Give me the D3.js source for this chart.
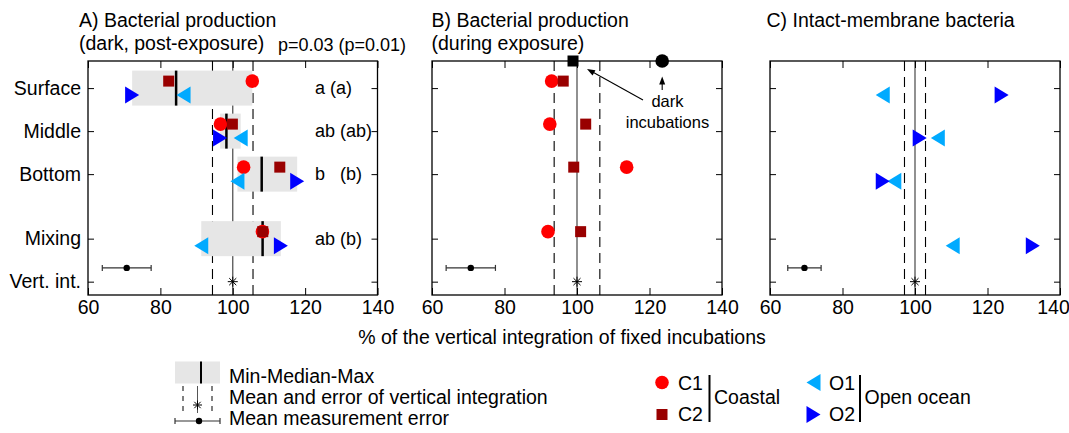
<!DOCTYPE html>
<html>
<head>
<meta charset="utf-8">
<script src="https://cdn.jsdelivr.net/npm/d3@7/dist/d3.min.js"></script>
<style>
  body { margin: 0; background: #fff; }
  text { font-family: "Liberation Sans", Arial, sans-serif; fill: #000; }
</style>
</head>
<body>
<svg id="chart" width="1069" height="433"></svg>
<script>
// ---- data (% of vertical integration) ----
var depths = ["Surface", "Middle", "Bottom", "Mixing", "Vert. int."];
var depthPos = [1, 2, 3, 4.5, 5.5];
var xTicks = [60, 80, 100, 120, 140];

// A) dark, post-exposure
var darkC1 = [105.4, 96.6, 103.0, 108.2];
var darkC2 = [82.3, 99.9, 113.0, 108.3];
var darkO1 = [86.4, 102.2, 101.3, 91.3];
var darkO2 = [72.2, 96.5, 117.8, 113.3];
var sigLabels = ["a (a)", "ab (ab)", "b   (b)", "ab (b)"];
var pLabel = "p=0.03 (p=0.01)";

// B) during exposure
var expC1 = [93.0, 92.5, 113.7, 92.0];
var expC2 = [96.2, 102.4, 99.1, 101.0];
var darkIncSquare = 98.9, darkIncCircle = 123.5;

// C) intact-membrane bacteria
var imO1 = [91.1, 106.3, 94.3, 110.4];
var imO2 = [123.9, 101.3, 91.1, 132.5];

// vertical integration mean/error and mean measurement error, per panel
var vertMean = [100, 100, 100];
var vertErr = [5.6, 6.3, 2.9];
var measMean = [70.7, 70.7, 69.5];
var measErr = [6.75, 6.8, 4.6];

// ---- styles ----
var colC1 = "#ff0000", colC2 = "#990000", colO1 = "#00aaff", colO2 = "#0000ff";
var font = 19.5;

var svg = d3.select("#chart");
var plotTop = 61, plotBottom = 295;
var panels = [
  { left: 88, right: 377.5 },
  { left: 432, right: 722 },
  { left: 770, right: 1060 }
];

var y = d3.scaleLinear().domain([0.37, 5.81]).range([plotTop, plotBottom]);
var measY = 5.18;

function triPath(dir) {
  // dir -1: pointing left, 1: pointing right
  var w = 14, h = 17;
  return "M" + (dir * w / 2) + ",0L" + (-dir * w / 2) + "," + (-h / 2) + "L" + (-dir * w / 2) + "," + (h / 2) + "Z";
}

function drawMarker(g, type, cx, cy, color) {
  if (type === "circle") {
    g.append("circle").attr("cx", cx).attr("cy", cy).attr("r", 6.8).attr("fill", color);
  } else if (type === "square") {
    g.append("rect").attr("x", cx - 5.5).attr("y", cy - 5.5).attr("width", 11).attr("height", 11).attr("fill", color);
  } else if (type === "left") {
    g.append("path").attr("d", triPath(-1)).attr("transform", "translate(" + cx + "," + cy + ")").attr("fill", color);
  } else if (type === "right") {
    g.append("path").attr("d", triPath(1)).attr("transform", "translate(" + cx + "," + cy + ")").attr("fill", color);
  }
}

function drawStar(g, cx, cy, r) {
  var s = g.append("g").attr("transform", "translate(" + cx + "," + cy + ")")
    .attr("stroke", "#000").attr("stroke-width", 1);
  [0, 45, 90, 135].forEach(function(a) {
    var rad = a * Math.PI / 180;
    s.append("line")
      .attr("x1", -r * Math.cos(rad)).attr("y1", -r * Math.sin(rad))
      .attr("x2", r * Math.cos(rad)).attr("y2", r * Math.sin(rad));
  });
}

function drawPanel(i, series, opts) {
  var p = panels[i];
  var x = d3.scaleLinear().domain([60, 140]).range([p.left, p.right]);
  var g = svg.append("g");

  // reference lines (mean and error of vertical integration)
  g.append("line")
    .attr("x1", x(vertMean[i])).attr("x2", x(vertMean[i]))
    .attr("y1", plotTop).attr("y2", plotBottom)
    .attr("stroke", "#555").attr("stroke-width", 1.3);
  [vertMean[i] - vertErr[i], vertMean[i] + vertErr[i]].forEach(function(v) {
    g.append("line")
      .attr("x1", x(v)).attr("x2", x(v))
      .attr("y1", plotTop).attr("y2", plotBottom)
      .attr("stroke", "#000").attr("stroke-width", 1.1)
      .attr("stroke-dasharray", "10,6");
  });

  // min-median-max boxes
  if (opts.boxes) {
    for (var k = 0; k < 4; k++) {
      var vals = series.map(function(s) { return s.values[k]; });
      var cy = y(depthPos[k]);
      g.append("rect")
        .attr("x", x(d3.min(vals))).attr("width", x(d3.max(vals)) - x(d3.min(vals)))
        .attr("y", cy - 17.5).attr("height", 35)
        .attr("fill", "#e6e6e6");
      g.append("line")
        .attr("x1", x(d3.median(vals))).attr("x2", x(d3.median(vals)))
        .attr("y1", cy - 17.5).attr("y2", cy + 17.5)
        .attr("stroke", "#000").attr("stroke-width", 2.5);
    }
  }

  // markers
  series.forEach(function(s) {
    s.values.forEach(function(v, k) {
      drawMarker(g, s.type, x(v), y(depthPos[k]) + s.dy, s.color);
    });
  });

  // vertical integration star
  drawStar(g, x(vertMean[i]), y(depthPos[4]), 5);

  // mean measurement error
  var my = y(measY);
  var eb = g.append("g").attr("stroke", "#333").attr("stroke-width", 1.2);
  eb.append("line").attr("x1", x(measMean[i] - measErr[i])).attr("x2", x(measMean[i] + measErr[i]))
    .attr("y1", my).attr("y2", my);
  [measMean[i] - measErr[i], measMean[i] + measErr[i]].forEach(function(v) {
    eb.append("line").attr("x1", x(v)).attr("x2", x(v)).attr("y1", my - 3).attr("y2", my + 3);
  });
  g.append("circle").attr("cx", x(measMean[i])).attr("cy", my).attr("r", 3.2).attr("fill", "#000");

  // axes with inward ticks
  var xb = g.append("g").attr("transform", "translate(0," + plotBottom + ")")
    .call(d3.axisBottom(x).tickValues(xTicks).tickSize(-7).tickSizeOuter(0).tickPadding(5));
  var xt = g.append("g").attr("transform", "translate(0," + plotTop + ")")
    .call(d3.axisTop(x).tickValues(xTicks).tickSize(-7).tickSizeOuter(0).tickFormat(""));
  var yl = g.append("g").attr("transform", "translate(" + p.left + ",0)")
    .call(d3.axisLeft(y).tickValues(depthPos).tickSize(-6).tickSizeOuter(0).tickPadding(7)
      .tickFormat(function(d, j) { return opts.yLabels ? depths[j] : ""; }));
  var yr = g.append("g").attr("transform", "translate(" + p.right + ",0)")
    .call(d3.axisRight(y).tickValues(depthPos).tickSize(-6).tickSizeOuter(0).tickFormat(""));
  [xb, xt, yl, yr].forEach(function(a) {
    a.select(".domain").remove();
    a.selectAll(".tick line").attr("stroke", "#000").attr("stroke-width", 1);
    a.selectAll("text").attr("font-size", font).attr("font-family", "Liberation Sans, Arial, sans-serif");
  });
  if (opts.pullLastTick) {
    // keep the last tick label inside the picture
    xb.selectAll(".tick text").filter(function(d) { return d === 140; }).attr("dx", -7);
  }

  // frame
  g.append("rect")
    .attr("x", p.left).attr("y", plotTop)
    .attr("width", p.right - p.left).attr("height", plotBottom - plotTop)
    .attr("fill", "none").attr("stroke", "#000").attr("stroke-width", 1.3);

  return { g: g, x: x };
}

// ---- Panel A ----
var A = drawPanel(0, [
  { values: darkC1, type: "circle", color: colC1, dy: -7 },
  { values: darkC2, type: "square", color: colC2, dy: -7 },
  { values: darkO1, type: "left", color: colO1, dy: 7 },
  { values: darkO2, type: "right", color: colO2, dy: 7 }
], { boxes: true, yLabels: true });

sigLabels.forEach(function(s, k) {
  A.g.append("text")
    .attr("x", 315).attr("y", y(depthPos[k]) + 6)
    .attr("font-size", 18)
    .attr("xml:space", "preserve")
    .style("white-space", "pre")
    .text(s);
});

svg.append("text").attr("x", 79).attr("y", 27).attr("font-size", font).text("A) Bacterial production");
svg.append("text").attr("x", 79).attr("y", 49.5).attr("font-size", font).text("(dark, post-exposure)");
svg.append("text").attr("x", 278).attr("y", 50.5).attr("font-size", 18).text(pLabel);

// ---- Panel B ----
var B = drawPanel(1, [
  { values: expC1, type: "circle", color: colC1, dy: -7 },
  { values: expC2, type: "square", color: colC2, dy: -7 }
], { boxes: false, yLabels: false });

drawMarker(B.g, "square", B.x(darkIncSquare), plotTop, "#000");
drawMarker(B.g, "circle", B.x(darkIncCircle), plotTop, "#000");

function arrow(g, x1, y1, x2, y2) {
  var ang = Math.atan2(y2 - y1, x2 - x1), hl = 8, hw = 3;
  g.append("line").attr("x1", x1).attr("y1", y1)
    .attr("x2", x2 - Math.cos(ang) * hl * 0.8).attr("y2", y2 - Math.sin(ang) * hl * 0.8)
    .attr("stroke", "#000").attr("stroke-width", 1.1);
  var bx = x2 - Math.cos(ang) * hl, by = y2 - Math.sin(ang) * hl;
  g.append("path")
    .attr("d", "M" + x2 + "," + y2 +
      "L" + (bx - Math.sin(ang) * hw) + "," + (by + Math.cos(ang) * hw) +
      "L" + (bx + Math.sin(ang) * hw) + "," + (by - Math.cos(ang) * hw) + "Z")
    .attr("fill", "#000");
}
arrow(B.g, 643, 100, 587, 69);
arrow(B.g, B.x(darkIncCircle), 90, B.x(darkIncCircle), 76.5);
B.g.append("text").attr("x", 667.5).attr("y", 107).attr("font-size", 16.5)
  .attr("text-anchor", "middle").text("dark");
B.g.append("text").attr("x", 667.5).attr("y", 128).attr("font-size", 16.5)
  .attr("text-anchor", "middle").text("incubations");

svg.append("text").attr("x", 431.5).attr("y", 27).attr("font-size", font).text("B) Bacterial production");
svg.append("text").attr("x", 431.5).attr("y", 49.5).attr("font-size", font).text("(during exposure)");

// ---- Panel C ----
drawPanel(2, [
  { values: imO1, type: "left", color: colO1, dy: 7 },
  { values: imO2, type: "right", color: colO2, dy: 7 }
], { boxes: false, yLabels: false, pullLastTick: true });

svg.append("text").attr("x", 766.5).attr("y", 27).attr("font-size", font).text("C) Intact-membrane bacteria");

// shared x label
svg.append("text").attr("x", 562).attr("y", 343.5).attr("font-size", font)
  .attr("text-anchor", "middle").text("% of the vertical integration of fixed incubations");

// ---- legend (left) ----
var lg = svg.append("g");
lg.append("rect").attr("x", 175).attr("y", 361.5).attr("width", 45).attr("height", 22).attr("fill", "#e6e6e6");
lg.append("line").attr("x1", 201).attr("x2", 201).attr("y1", 361.5).attr("y2", 383.5)
  .attr("stroke", "#000").attr("stroke-width", 2);
[183, 212].forEach(function(lx) {
  lg.append("line").attr("x1", lx).attr("x2", lx).attr("y1", 386).attr("y2", 413)
    .attr("stroke", "#000").attr("stroke-width", 1).attr("stroke-dasharray", "5,5");
});
lg.append("line").attr("x1", 197.5).attr("x2", 197.5).attr("y1", 386).attr("y2", 413)
  .attr("stroke", "#555").attr("stroke-width", 1);
drawStar(lg, 197.5, 405, 4.5);
lg.append("line").attr("x1", 175).attr("x2", 220).attr("y1", 421).attr("y2", 421)
  .attr("stroke", "#333").attr("stroke-width", 1.2);
[175, 220].forEach(function(lx) {
  lg.append("line").attr("x1", lx).attr("x2", lx).attr("y1", 418).attr("y2", 424)
    .attr("stroke", "#333").attr("stroke-width", 1.2);
});
lg.append("circle").attr("cx", 199).attr("cy", 421).attr("r", 3.2).attr("fill", "#000");
lg.append("text").attr("x", 229).attr("y", 383).attr("font-size", font).text("Min-Median-Max");
lg.append("text").attr("x", 229).attr("y", 404).attr("font-size", font).text("Mean and error of vertical integration");
lg.append("text").attr("x", 229).attr("y", 425).attr("font-size", font).text("Mean measurement error");

// ---- legend (right) ----
var rg = svg.append("g");
drawMarker(rg, "circle", 662, 382.5, colC1);
drawMarker(rg, "square", 662, 414.5, colC2);
drawMarker(rg, "left", 813.5, 382.5, colO1);
drawMarker(rg, "right", 813.5, 414.5, colO2);
[["C1", 678, 389.5], ["C2", 678, 421], ["O1", 829, 389.5], ["O2", 829, 421],
 ["Coastal", 714, 403.5], ["Open ocean", 864.5, 403.5]].forEach(function(t) {
  rg.append("text").attr("x", t[1]).attr("y", t[2]).attr("font-size", font).text(t[0]);
});
[709.5, 860].forEach(function(bx) {
  rg.append("line").attr("x1", bx).attr("x2", bx).attr("y1", 375).attr("y2", 422)
    .attr("stroke", "#000").attr("stroke-width", 2);
});
</script>
</body>
</html>
